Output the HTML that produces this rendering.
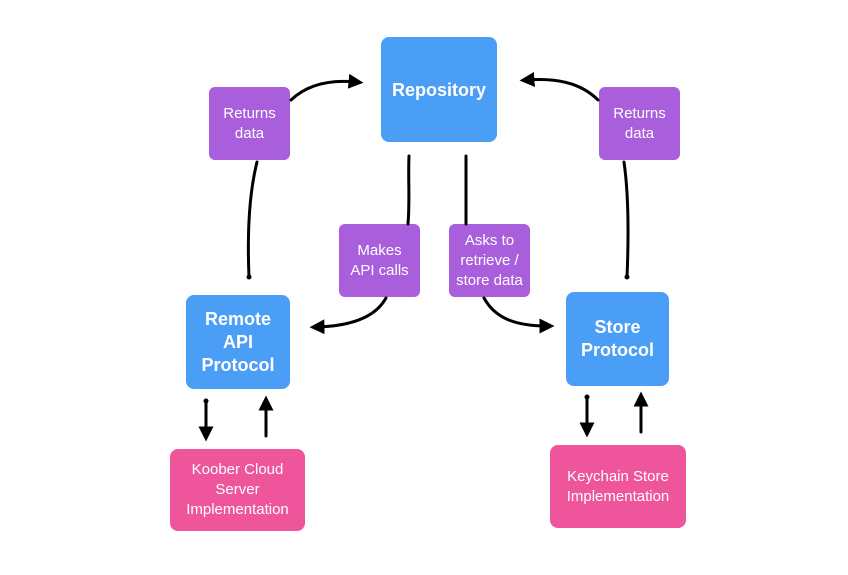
<!DOCTYPE html>
<html><head><meta charset="utf-8"><style>
html,body{margin:0;padding:0;background:#fff;}
body{width:848px;height:575px;position:relative;overflow:hidden;font-family:"Liberation Sans",sans-serif;}
.b{position:absolute;display:flex;align-items:center;justify-content:center;text-align:center;color:#fff;border-radius:8px;box-sizing:border-box;}
.blue{background:#4a9ef5;font-weight:bold;font-size:18px;line-height:23px;}
.pur{background:#a95fdc;font-size:15px;line-height:20px;border-radius:6px;}
.pink{background:#ee559a;font-size:15px;line-height:20px;}
svg{position:absolute;left:0;top:0;}
</style></head><body>
<div class="b blue" style="left:381px;top:37px;width:116px;height:105px;align-items:flex-start;padding-top:42px;">Repository</div>
<div class="b pur" style="left:209px;top:87px;width:81px;height:73px;">Returns<br>data</div>
<div class="b pur" style="left:599px;top:87px;width:81px;height:73px;">Returns<br>data</div>
<div class="b pur" style="left:339px;top:224px;width:81px;height:73px;">Makes<br>API calls</div>
<div class="b pur" style="left:449px;top:224px;width:81px;height:73px;">Asks to<br>retrieve /<br>store data</div>
<div class="b blue" style="left:186px;top:295px;width:104px;height:94px;">Remote<br>API<br>Protocol</div>
<div class="b blue" style="left:566px;top:292px;width:103px;height:94px;">Store<br>Protocol</div>
<div class="b pink" style="left:170px;top:449px;width:135px;height:82px;">Koober Cloud<br>Server<br>Implementation</div>
<div class="b pink" style="left:550px;top:445px;width:136px;height:83px;">Keychain Store<br>Implementation</div>
<svg width="848" height="575" viewBox="0 0 848 575">
<defs><marker id="a" markerWidth="5" markerHeight="5" refX="2.5" refY="2.5" orient="auto" markerUnits="strokeWidth"><path d="M0,0 L5,2.5 L0,5 z" fill="#000"/></marker></defs>
<g fill="none" stroke="#000" stroke-width="3" stroke-linecap="round">
<path d="M249,277 C247,230 250,190 257,162"/>
<path d="M291,100 C310,82 335,80 356,82" marker-end="url(#a)"/>
<path d="M627,277 C629,230 628,190 624,162"/>
<path d="M598,100 C580,82 555,78 527,80" marker-end="url(#a)"/>
<path d="M409,156 C408,180 410,200 408,224"/>
<path d="M386,298 C375,318 350,326 317,327" marker-end="url(#a)"/>
<path d="M466,156 L466,224"/>
<path d="M484,298 C495,318 515,326 547,326" marker-end="url(#a)"/>
<path d="M206,401 L206,434" marker-end="url(#a)"/>
<path d="M266,436 L266,403" marker-end="url(#a)"/>
<path d="M587,397 L587,430" marker-end="url(#a)"/>
<path d="M641,432 L641,399" marker-end="url(#a)"/>
</g>
<g fill="#000"><circle cx="249" cy="277" r="2.5"/><circle cx="627" cy="277" r="2.5"/><circle cx="206" cy="401" r="2.5"/><circle cx="587" cy="397" r="2.5"/></g>
</svg>
</body></html>
